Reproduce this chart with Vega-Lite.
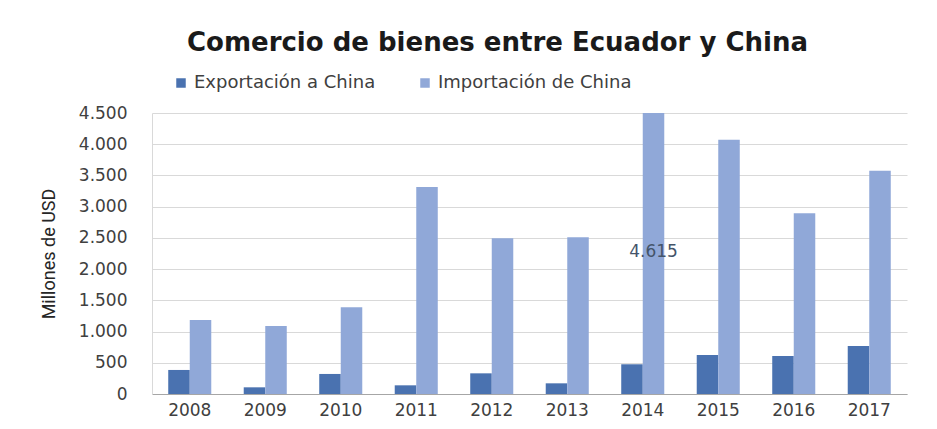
{
  "$schema": "https://vega.github.io/schema/vega-lite/v6.json",
  "width": 755,
  "height": 281,
  "autosize": {"type": "none"},
  "padding": {"left": 152, "top": 113, "right": 30, "bottom": 35},
  "background": "white",
  "title": {
    "text": "Comercio de bienes entre Ecuador y China",
    "font": "DejaVu Sans",
    "fontSize": 26,
    "fontWeight": "bold",
    "color": "#1a1a1a",
    "anchor": "middle",
    "frame": "group",
    "dx": -32,
    "offset": 18
  },
  "data": {
    "values": [
      {"year": "2008", "serie": "Exportación a China", "value": 385},
      {"year": "2008", "serie": "Importación de China", "value": 1186},
      {"year": "2009", "serie": "Exportación a China", "value": 107},
      {"year": "2009", "serie": "Importación de China", "value": 1090},
      {"year": "2010", "serie": "Exportación a China", "value": 321},
      {"year": "2010", "serie": "Importación de China", "value": 1389},
      {"year": "2011", "serie": "Exportación a China", "value": 139},
      {"year": "2011", "serie": "Importación de China", "value": 3313},
      {"year": "2012", "serie": "Exportación a China", "value": 331},
      {"year": "2012", "serie": "Importación de China", "value": 2496},
      {"year": "2013", "serie": "Exportación a China", "value": 171},
      {"year": "2013", "serie": "Importación de China", "value": 2512},
      {"year": "2014", "serie": "Exportación a China", "value": 476},
      {"year": "2014", "serie": "Importación de China", "value": 4615},
      {"year": "2015", "serie": "Exportación a China", "value": 625},
      {"year": "2015", "serie": "Importación de China", "value": 4072},
      {"year": "2016", "serie": "Exportación a China", "value": 609},
      {"year": "2016", "serie": "Importación de China", "value": 2896},
      {"year": "2017", "serie": "Exportación a China", "value": 770},
      {"year": "2017", "serie": "Importación de China", "value": 3575}
    ]
  },
  "encoding": {
    "x": {
      "field": "year",
      "type": "nominal",
      "scale": {"paddingInner": 0.43, "paddingOuter": 0.215},
      "axis": {
        "title": null,
        "labelAngle": 0,
        "labelFont": "DejaVu Sans",
        "labelFontSize": 17,
        "labelColor": "#404040",
        "labelPadding": 8,
        "ticks": false,
        "domainColor": "#A6A6A6",
        "grid": false
      }
    },
    "xOffset": {"field": "serie", "type": "nominal", "scale": {"paddingInner": 0, "paddingOuter": 0}},
    "y": {
      "field": "value",
      "type": "quantitative",
      "scale": {"domain": [0, 4500], "nice": false, "clamp": true},
      "axis": {
        "title": "Millones de USD",
        "titleFont": "Roboto",
        "titleFontSize": 18,
        "titleFontWeight": "normal",
        "titleColor": "#262626",
        "titlePadding": 20,
        "values": [0, 500, 1000, 1500, 2000, 2500, 3000, 3500, 4000, 4500],
        "format": ",d",
        "labelFont": "DejaVu Sans",
        "labelFontSize": 17,
        "labelColor": "#404040",
        "labelPadding": 25,
        "ticks": false,
        "domainColor": "#D9D9D9",
        "gridColor": "#D9D9D9",
        "gridWidth": 1.2
      }
    }
  },
  "layer": [
    {
      "mark": {"type": "bar"},
      "encoding": {
        "color": {
          "field": "serie",
          "type": "nominal",
          "scale": {"domain": ["Exportación a China", "Importación de China"], "range": ["#4A72B0", "#90A8D8"]},
          "legend": {
            "title": null,
            "orient": "none",
            "legendX": 20,
            "legendY": -39,
            "direction": "horizontal",
            "symbolType": "square",
            "symbolSize": 90,
            "symbolStrokeWidth": 0,
            "labelFont": "DejaVu Sans",
            "labelFontSize": 18,
            "labelColor": "#404040",
            "labelLimit": 0,
            "columnPadding": 40
          }
        }
      }
    },
    {
      "transform": [{"filter": "datum.year == '2014' && datum.serie == 'Importación de China'"}],
      "mark": {"type": "text", "baseline": "middle", "align": "center", "dy": 139, "font": "DejaVu Sans", "fontSize": 17, "color": "#44546A"},
      "encoding": {
        "text": {"field": "value", "type": "quantitative", "format": ",d"}
      }
    }
  ],
  "config": {
    "locale": {"number": {"decimal": ",", "thousands": ".", "grouping": [3], "currency": ["$", ""]}},
    "view": {"stroke": null}
  }
}
